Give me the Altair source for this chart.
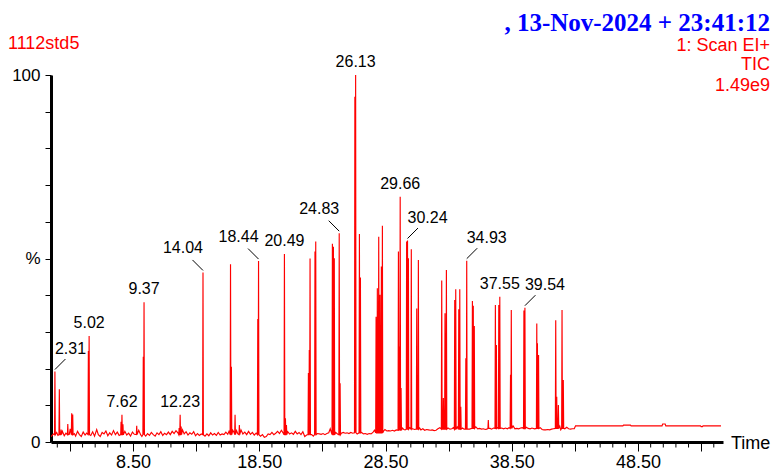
import altair as alt
import pandas as pd

# ---------------- data ----------------
peak_times = [2.31, 2.66, 2.80, 3.33, 3.64, 3.72,
              4.96, 5.02, 7.55, 7.62, 7.70, 8.79, 9.31, 9.37,
              12.15, 12.23, 12.31, 14.04,
              16.22, 16.29, 16.58, 16.92, 18.38, 18.44,
              20.49, 20.57, 20.65, 22.39, 22.46, 22.52, 22.91, 22.97,
              24.29, 24.37, 24.44, 24.83, 24.90,
              26.07, 26.13, 26.43, 26.51,
              27.75, 27.85, 27.96, 28.06, 28.17, 28.25,
              29.52, 29.60, 29.66, 29.73, 30.17, 30.24, 30.31, 30.54,
              30.97, 31.10, 32.95, 33.08, 33.21, 33.32,
              33.98, 34.06, 34.30, 34.38, 34.46, 34.86, 34.93,
              35.38, 35.45, 35.53, 36.64, 37.20, 37.28, 37.47, 37.55,
              38.40, 38.46, 39.46, 39.54, 40.48, 40.53, 40.62,
              41.98, 42.06, 42.19, 42.48, 42.58]
peak_heights = [19.2, 14.4, 3.4, 4.9, 7.8, 7.5,
                24.8, 28.9, 5.5, 7.4, 4.8, 4.4, 23.2, 38.1,
                3.8, 7.4, 4.2, 46.2,
                48.4, 20.5, 7.4, 4.6, 33.5, 49.3,
                51.2, 6.5, 4.6, 18.8, 25.1, 50.0, 51.9, 54.6,
                54.0, 53.2, 50.1, 56.9, 16.0,
                94.1, 100.0, 56.7, 44.8,
                34.1, 41.9, 55.9, 40.1, 47.8, 58.9,
                51.9, 26.0, 66.8, 14.7, 54.6, 54.9, 50.1, 52.5,
                36.4, 49.6, 44.0, 12.0, 35.1, 46.9,
                38.7, 41.6, 36.2, 41.6, 9.6, 22.8, 49.4,
                38.4, 37.1, 31.6, 6.0, 37.3, 26.4, 37.3, 39.6,
                18.3, 36.0, 35.8, 36.6, 32.3, 26.9, 23.7,
                33.2, 12.3, 10.1, 36.0, 16.9]

noise_times = [2.0, 2.05, 2.18, 2.45, 2.55, 2.9, 3.05, 3.18, 3.45, 3.52, 3.85, 3.95,
               4.1, 4.25, 4.4, 4.55, 4.7, 4.82, 5.15, 5.3, 5.45, 5.62, 5.75, 5.9,
               6.05, 6.2, 6.35, 6.5, 6.65, 6.8, 6.95, 7.1, 7.25, 7.4, 7.85, 8.0,
               8.15, 8.3, 8.45, 8.6, 8.95, 9.1, 9.2, 9.5, 9.65, 9.8, 9.95, 10.1,
               10.25, 10.4, 10.55, 10.7, 10.85, 11.0, 11.15, 11.3, 11.45, 11.6,
               11.75, 11.9, 12.05, 12.42, 12.55, 12.7, 12.85, 13.0, 13.15, 13.3,
               13.45, 13.6, 13.75, 13.9, 14.2, 14.35, 14.5, 14.65, 14.8, 14.95,
               15.1, 15.25, 15.4, 15.55, 15.7, 15.85, 16.0, 16.1, 16.4, 16.5,
               16.7, 16.8, 17.05, 17.2, 17.35, 17.5, 17.65, 17.8, 17.95, 18.1,
               18.25, 18.6, 18.75, 18.9, 19.05, 19.2, 19.35, 19.5, 19.65, 19.8,
               19.95, 20.1, 20.25, 20.38, 20.75, 20.9, 21.05, 21.2, 21.35, 21.5,
               21.65, 21.8, 21.95, 22.1, 22.25, 22.65, 22.78, 23.1, 23.25, 23.4,
               23.55, 23.7, 23.85, 24.0, 24.12, 24.55, 24.7, 25.0, 25.15, 25.3,
               25.45, 25.6, 25.75, 25.9,
               26.25, 26.6, 26.75, 26.9, 27.05, 27.2, 27.35, 27.5, 27.62, 28.35, 28.45,
               28.6, 28.75, 28.9, 29.05, 29.2, 29.35, 29.85, 29.95, 30.05,
               30.42, 30.65, 30.8, 31.2, 31.3, 31.45, 31.6, 31.75, 31.9, 32.05,
               32.2, 32.35, 32.5, 32.65, 32.8, 33.45, 33.6, 33.75, 33.88, 34.18,
               34.6, 34.72,
               35.15, 35.65, 35.8, 35.95, 36.1, 36.25, 36.4, 36.52, 36.78, 36.9,
               37.05, 37.38, 37.7, 37.85, 38.0, 38.15, 38.28, 38.6, 38.75, 38.9,
               39.05, 39.2, 39.33, 39.65, 39.8, 39.95, 40.1, 40.3, 40.75, 40.9,
               41.05, 41.2, 41.35, 41.5, 41.65, 41.8, 42.3, 42.38, 42.7, 42.85,
               43.0, 43.15, 43.3, 43.45,
               43.55, 47.3, 47.35, 47.9, 47.95, 50.4, 50.45, 50.65, 50.7,
               53.45, 53.5, 53.6, 53.65, 55.07]
noise_values = [1.6, 1.6, 2.2, 2.6, 1.8, 2.9, 1.7, 2.4, 2.1, 3.6, 2.3, 1.6,
                2.9, 2.0, 1.5, 2.7, 1.9, 2.4, 1.8, 2.8, 1.6, 3.4, 2.0, 1.5,
                2.6, 2.2, 3.0, 1.7, 2.5, 1.9, 3.1, 2.0, 2.7, 1.8, 2.9, 1.9,
                2.4, 1.6, 2.7, 2.1, 3.2, 2.0, 1.5, 1.6, 2.3, 1.8, 2.6, 2.0,
                1.6, 2.5, 2.0, 2.8, 1.8, 2.4, 2.0, 2.7, 2.0, 2.9,
                2.3, 3.1, 2.5, 3.3, 2.2, 2.8, 1.9, 2.5, 2.1, 2.8,
                1.7, 2.3, 1.8, 2.2, 1.6, 2.2, 1.7, 2.5, 1.9, 2.3,
                1.8, 2.6, 1.9, 2.2, 2.0, 2.7, 2.1, 2.9, 3.2, 2.6,
                3.1, 2.2, 3.3, 2.2, 2.7, 2.0, 2.9, 2.1, 2.6, 1.9,
                2.4, 1.6, 2.0, 1.3, 1.5, 2.2, 2.0, 2.6, 2.0, 2.4,
                2.9, 2.3, 3.2, 2.5, 2.8, 2.2, 2.5, 2.1, 2.9, 2.2,
                2.6, 2.0, 2.8, 1.5, 1.9, 2.0, 1.6, 2.3, 2.2, 2.1,
                2.3, 2.0, 2.3, 2.5, 3.6, 2.6, 2.2, 2.4, 2.6, 2.4,
                2.5, 2.3, 2.6, 2.4,
                2.2, 2.6, 2.2, 2.3, 2.1, 2.3, 2.2, 2.6, 3.2, 3.0, 3.4,
                3.0, 3.1, 3.0, 3.2, 3.0, 3.3, 3.8, 3.4, 3.3,
                3.9, 3.6, 3.4, 3.8, 3.3, 3.6, 3.2, 3.4, 3.3, 3.2,
                3.3, 3.1, 3.2, 3.6, 3.9, 3.8, 3.5, 3.6, 3.9, 4.1,
                3.8, 3.5,
                3.5, 4.1, 3.6, 3.7, 3.5, 3.6, 3.4, 3.5, 3.7, 3.5,
                3.8, 3.9, 3.8, 3.6, 3.8, 3.6, 3.9, 4.4, 3.6, 3.7,
                3.6, 3.8, 3.9, 4.0, 3.7, 3.6, 3.8, 3.6, 3.9, 3.4,
                3.3, 3.3, 3.4, 3.3, 3.5, 3.6, 4.3, 3.3, 3.6, 4.0,
                3.6, 3.5, 3.6, 3.6,
                4.4, 4.4, 4.6, 4.6, 4.4, 4.4, 4.9, 4.9, 4.4,
                4.4, 4.2, 4.2, 4.4, 4.4]

base_starts = [2.0, 26.0, 28.5, 30.0, 35.0, 43.5]
base_levels = [2.0, 2.5, 3.2, 3.5, 3.7, 4.4]

label_texts = ["2.31", "5.02", "7.62", "9.37", "12.23", "14.04", "18.44", "20.49",
               "24.83", "26.13", "29.66", "30.24", "34.93", "37.55", "39.54"]
label_kinds = ["right", "plain", "plain", "plain", "plain", "left", "left", "plain",
               "left", "plain", "plain", "right", "right", "plain", "right"]

major_ticks = [3.5, 8.5, 13.5, 18.5, 23.5, 28.5, 33.5, 38.5, 43.5, 48.5, 53.5]
minor_ticks = [2.5, 4.5, 5.5, 6.5, 7.5, 9.5, 10.5, 11.5, 12.5, 14.5, 15.5, 16.5, 17.5,
               19.5, 20.5, 21.5, 22.5, 24.5, 25.5, 26.5, 27.5, 29.5, 30.5, 31.5, 32.5,
               34.5, 35.5, 36.5, 37.5, 39.5, 40.5, 41.5, 42.5, 44.5, 45.5, 46.5, 47.5,
               49.5, 50.5, 51.5, 52.5, 54.5]
y_ticks = [0, 10, 20, 30, 40, 50, 60, 70, 80, 90, 100]

title_date = ",  13-Nov-2024 + 23:41:12"
sample_name = "1112std5"
info_lines = ["1: Scan EI+", "TIC", "1.49e9"]

# ---------------- build table ----------------
def base_at(t):
    lvl = base_levels[0]
    for s, l in zip(base_starts, base_levels):
        if t >= s:
            lvl = l
    return lvl

pts = list(zip(noise_times, noise_values))
hw = 0.03
for t, h in zip(peak_times, peak_heights):
    b = base_at(t)
    pts += [(t - hw, b), (t, h), (t + hw, b)]
pts.sort()
trace = pd.DataFrame(pts, columns=["t", "v"])
trace["o"] = range(len(trace))

height_of = dict(zip(peak_times, peak_heights))
labels = pd.DataFrame({
    "txt": label_texts,
    "kind": label_kinds,
    "t": [float(s) for s in label_texts],
})
labels["v"] = [height_of[t] for t in labels["t"]]

minor_df = pd.DataFrame({"t": minor_ticks})

# ---------------- chart ----------------
FONT = "Liberation Sans"
W, H = 672, 367
xscale = alt.Scale(domain=[2.0, 55.23], nice=False, zero=False)
yscale = alt.Scale(domain=[0, 100], nice=False, zero=True)
xaxis = alt.Axis(values=major_ticks, title=None, grid=False, tickSize=9, tickWidth=1,
                 tickColor="black", domainColor="black", domainWidth=3,
                 labelExpr="abs((datum.value - 8.5) % 10) < 0.01 ? format(datum.value, '.2f') : ''",
                 labelFontSize=18, labelColor="black", labelFont=FONT, labelPadding=2,
                 labelFlush=False, labelOverlap=False)
yaxis = alt.Axis(values=y_ticks, title=None, grid=False, tickSize=6, tickWidth=1,
                 tickColor="black", domainColor="black", domainWidth=3,
                 labelExpr="datum.value == 100 ? '100' : (datum.value == 50 ? '%' : (datum.value == 0 ? '0' : ''))",
                 labelFontSize=17, labelColor="black", labelFont=FONT, labelPadding=5,
                 labelFlush=False, labelOverlap=False)

def X():
    return alt.X("t:Q", scale=xscale, axis=xaxis)

def Y():
    return alt.Y("v:Q", scale=yscale, axis=yaxis)

line = alt.Chart(trace).mark_line(color="#ff0000", strokeWidth=1.15, interpolate="linear").encode(
    x=X(), y=Y(), order="o:Q")

lab = alt.Chart(labels)
plain = lab.transform_filter("datum.kind == 'plain'").mark_text(
    align="center", baseline="middle", dy=-13, fontSize=16, font=FONT, color="black"
).encode(x=X(), y=Y(), text="txt:N")
right = lab.transform_filter("datum.kind == 'right'").mark_text(
    align="left", baseline="middle", dy=-23, fontSize=16, font=FONT, color="black"
).encode(x=X(), y=Y(), text="txt:N")
left = lab.transform_filter("datum.kind == 'left'").mark_text(
    align="right", baseline="middle", dy=-24, fontSize=16, font=FONT, color="black"
).encode(x=X(), y=Y(), text="txt:N")
right_lead = lab.transform_filter("datum.kind == 'right'").mark_rule(
    color="black", strokeWidth=1, yOffset=-2, x2Offset=10.5, y2Offset=-12.5
).encode(x=X(), x2="t:Q", y=Y(), y2="v:Q")
left_lead = lab.transform_filter("datum.kind == 'left'").mark_rule(
    color="black", strokeWidth=1, yOffset=-2, x2Offset=-10.5, y2Offset=-12.5
).encode(x=X(), x2="t:Q", y=Y(), y2="v:Q")

minor = alt.Chart(minor_df).mark_rule(color="black", strokeWidth=1).encode(
    x=X(), y=alt.value(H), y2=alt.value(H + 5.5))

hdr = pd.DataFrame({"s": [title_date]})
date_txt = alt.Chart(hdr).mark_text(
    align="right", baseline="alphabetic", font="Liberation Serif", fontWeight="bold",
    fontSize=25, color="#0000ff"
).encode(x=alt.value(719), y=alt.value(-44.5), text="s:N")

name_txt = alt.Chart(pd.DataFrame({"s": [sample_name]})).mark_text(
    align="left", baseline="middle", font=FONT, fontSize=18, color="#ff0000"
).encode(x=alt.value(-43), y=alt.value(-31), text="s:N")

info_layers = []
for s, yy in zip(info_lines, [-29, -10, 10.5]):
    info_layers.append(alt.Chart(pd.DataFrame({"s": [s]})).mark_text(
        align="right", baseline="middle", font=FONT, fontSize=18, color="#ff0000"
    ).encode(x=alt.value(719), y=alt.value(yy), text="s:N"))

time_txt = alt.Chart(pd.DataFrame({"s": ["Time"]})).mark_text(
    align="left", baseline="middle", font=FONT, fontSize=18, color="black"
).encode(x=alt.value(680), y=alt.value(369), text="s:N")

chart = alt.layer(
    line, minor, plain, right, left, right_lead, left_lead,
    date_txt, name_txt, *info_layers, time_txt
).properties(
    width=W, height=H,
    autosize=alt.AutoSizeParams(type="none"),
    padding={"left": 43, "top": 67, "right": 48, "bottom": 31},
    background="white",
).configure(font=FONT).configure_view(stroke=None)

chart.save("out.html", embed_options={"renderer": "svg", "actions": False})
